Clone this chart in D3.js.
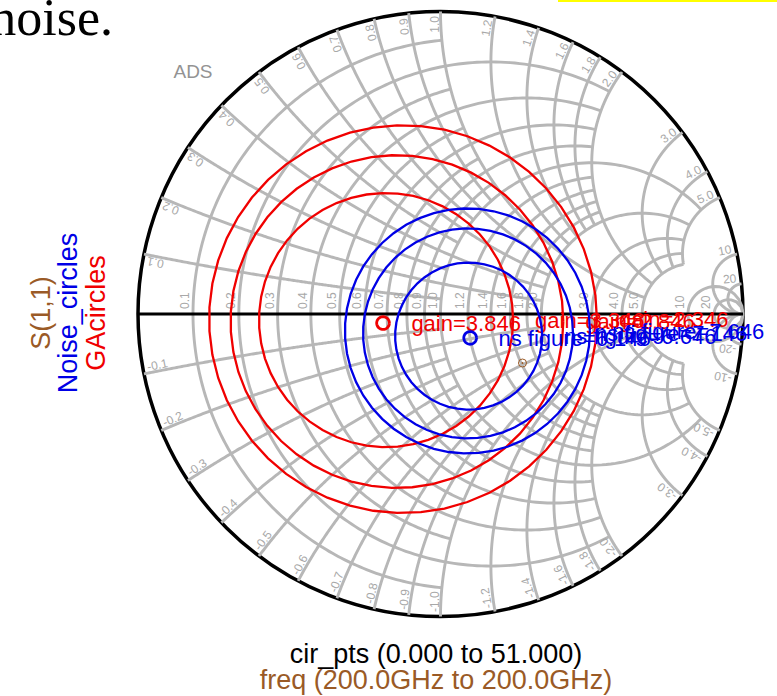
<!DOCTYPE html>
<html>
<head>
<meta charset="utf-8">
<script src="https://cdn.jsdelivr.net/npm/d3@7"></script>
<style>
  body { margin: 0; background: #fff; }
  svg { display: block; }
  text { font-family: "Liberation Sans", Arial, sans-serif; }
</style>
</head>
<body>
<svg id="chart" width="777" height="696"></svg>
<script>
// Smith chart grid: resistance circles / reactance arcs and how far each family runs
const gridFine = [0.1, 0.3, 0.5, 0.7, 0.9];      // runs up to 1
const gridEven = [0.2, 0.4, 0.6, 0.8];           // runs up to 2
const gridMid = [1.2, 1.4, 1.6, 1.8];            // runs up to 2
const gridCoarse = [1.0, 2.0, 3.0, 4.0, 5.0];    // runs up to 5
const gridTop = [10, 20];                        // full
const rLabels = [0.1, 0.2, 0.3, 0.4, 0.5, 0.6, 0.7, 0.8, 0.9, 1.0, 1.2, 1.4, 1.6, 1.8, 2.0, 3.0, 4.0, 5.0, 10, 20];
const xLabels = rLabels;

// GAcircles (reflection plane, centre / radius)
const gainText = ["gain=3.846", "gain=3.346", "gain=2.846", "gain=2.346"];
const gainRe = [-0.190, -0.180, -0.144, -0.124];
const gainIm = [-0.030, -0.020, -0.025, -0.017];
const gainRad = [0.021, 0.420, 0.550, 0.641];

// Noise_circles
const noiseText = ["ns figure=6.146", "ns figure=6.646", "ns figure=7.146", "ns figure=7.646"];
const noiseRe = [0.098, 0.093, 0.091, 0.089];
const noiseIm = [-0.079, -0.073, -0.064, -0.056];
const noiseRad = [0.021, 0.243, 0.347, 0.405];

// S(1,1) at 200 GHz
const s11Re = [0.271];
const s11Im = [-0.162];

const svg = d3.select("#chart");
const cx = 440.5, cy = 314, R = 302.5;
const gx = d3.scaleLinear().domain([-1, 1]).range([cx - R, cx + R]);
const gy = d3.scaleLinear().domain([-1, 1]).range([cy + R, cy - R]);
const line = d3.line().x(d => gx(d[0])).y(d => gy(d[1]));

function gamma(r, x) {
  const d = (r + 1) * (r + 1) + x * x;
  return [(r * r + x * x - 1) / d, 2 * x / d];
}

// resistance circle r, kept where |x| <= xmax
function rPath(r, xmax) {
  const a = Math.atan(xmax) * 0.99999;
  return d3.range(0, 241).map(i => gamma(r, Math.tan(-a + 2 * a * i / 240)));
}
// reactance arc x, kept where r <= rmax
function xPath(x, rmax) {
  const a = Math.atan(rmax) * 0.99999;
  return d3.range(0, 241).map(i => gamma(Math.tan(a * i / 240), x));
}

const gray = "#b7b7b7";

// outer rim
svg.append("circle").attr("cx", gx(0)).attr("cy", gy(0)).attr("r", gx(1) - gx(0))
  .attr("fill", "none").attr("stroke", "#000").attr("stroke-width", 3.5);

const grid = svg.append("g").attr("fill", "none").attr("stroke", gray).attr("stroke-width", 2.9);
[[gridFine, 1], [gridEven, 2], [gridMid, 2], [gridCoarse, 5], [gridTop, 1e6]].forEach(([vals, lim]) => {
  vals.forEach(v => {
    grid.append("path").attr("d", line(rPath(v, lim)));
    grid.append("path").attr("d", line(xPath(v, lim)));
    grid.append("path").attr("d", line(xPath(-v, lim)));
  });
});

// real axis
svg.append("path").attr("d", line([[-1, 0], [1, 0]]))
  .attr("stroke", "#000").attr("stroke-width", 3);

// grid labels
const lab = svg.append("g").attr("fill", "#a8a8a8").attr("font-size", 12);
const fmt = v => (v >= 10 ? d3.format("d")(v) : d3.format(".1f")(v));
rLabels.forEach(v => {
  const px = gx((v - 1) / (v + 1)) - 2;
  lab.append("text").attr("transform", `translate(${px},${gy(0) - 5}) rotate(-90)`)
    .attr("dy", -2).text(fmt(v));
});
xLabels.forEach(v => {
  [v, -v].forEach(x => {
    const g = gamma(0, x);
    const th = Math.atan2(g[1], g[0]) * 180 / Math.PI;
    const px = gx(g[0] * 0.985), py = gy(g[1] * 0.985);
    const up = th > 0;
    lab.append("text").attr("transform", `translate(${px},${py}) rotate(${up ? -th : -(th + 180)})`)
      .attr("text-anchor", up ? "end" : "start").attr("dy", -2)
      .text((x < 0 ? "-" : "") + fmt(Math.abs(x)));
  });
});

// circles from centre + radius, 51 points each (cir_pts 0..51)
function circ(re, im, rad) {
  return d3.range(0, 52).map(i => {
    const t = 2 * Math.PI * i / 51;
    return [re + rad * Math.cos(t), im + rad * Math.sin(t)];
  });
}

const series = [
  { color: "#f00000", text: gainText, re: gainRe, im: gainIm, rad: gainRad },
  { color: "#0000e6", text: noiseText, re: noiseRe, im: noiseIm, rad: noiseRad }
];
series.forEach(s => {
  s.re.forEach((re, i) => {
    const small = i === 0;
    svg.append("path").attr("d", line(circ(re, s.im[i], s.rad[i])))
      .attr("fill", "none").attr("stroke", s.color).attr("stroke-width", small ? 2.8 : 2.3);
  });
  s.re.forEach((re, i) => {
    svg.append("text").attr("x", gx(re + s.rad[i]) + 22).attr("y", gy(s.im[i]))
      .attr("dy", "0.35em").attr("font-size", 22).attr("fill", s.color).text(s.text[i]);
  });
});

// S(1,1) marker
const brown = "#9a5a26";
s11Re.forEach((re, i) => {
  svg.append("circle").attr("cx", gx(re)).attr("cy", gy(s11Im[i])).attr("r", 4)
    .attr("fill", "none").attr("stroke", brown).attr("stroke-width", 1);
  svg.append("circle").attr("cx", gx(re)).attr("cy", gy(s11Im[i])).attr("r", 1).attr("fill", brown);
});

// titles
svg.append("text").attr("x", 193).attr("y", 78).attr("text-anchor", "middle")
  .attr("font-size", 19).attr("fill", "#939393").text("ADS");

const yTitles = [["S(1,1)", brown, 50], ["Noise_circles", "#0000e6", 77], ["GAcircles", "#f00000", 105]];
yTitles.forEach(([t, c, x]) => {
  svg.append("text").attr("transform", `translate(${x},313) rotate(-90)`)
    .attr("text-anchor", "middle").attr("font-size", 27).attr("fill", c).text(t);
});

svg.append("text").attr("x", 436).attr("y", 663).attr("text-anchor", "middle")
  .attr("font-size", 27).attr("fill", "#000").text("cir_pts (0.000 to 51.000)");
svg.append("text").attr("x", 436).attr("y", 689).attr("text-anchor", "middle")
  .attr("font-size", 27).attr("fill", brown).text("freq (200.0GHz to 200.0GHz)");

// fragment of the slide above the chart
svg.append("text").attr("x", 113).attr("y", 35).attr("text-anchor", "end")
  .style("font-family", "'Liberation Serif', 'Times New Roman', serif").attr("font-size", 52)
  .attr("fill", "#000").text("noise.");
svg.append("rect").attr("x", 558).attr("y", 0).attr("width", 219).attr("height", 2).attr("fill", "#ffff00");
</script>
</body>
</html>
